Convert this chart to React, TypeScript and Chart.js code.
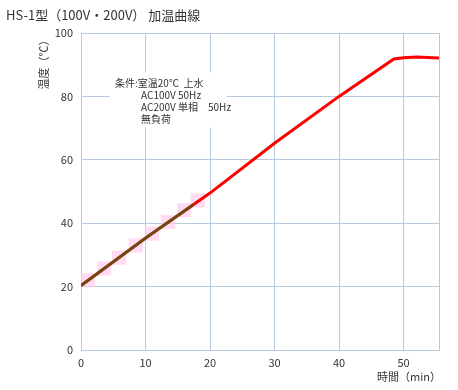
import React, { useEffect, useRef } from "react";
import { Chart, registerables } from "chart.js";

Chart.register(...registerables);

const titleText = "HS-1型（100V・200V） 加温曲線";
const yTitle = "温度（℃）";
const xTitle = "時間（min）";
const noteLines = ["条件:室温20℃  上水", "AC100V 50Hz", "AC200V 単相　50Hz", "無負荷"];

// heating curve (red)
const redTimes = [0, 10, 20, 30, 40, 48.5, 50, 52, 55.5];
const redTemps = [20.3, 35.3, 49.5, 65.2, 80.0, 91.8, 92.2, 92.4, 92.1];

// early segment overlay (brown)
const brownTimes = [0, 10, 17.4];
const brownTemps = [20.3, 35.3, 45.8];

// pink square markers
const markTimes = [1.1, 3.6, 5.9, 8.5, 11.0, 13.5, 16.0, 18.1];
const markTemps = [22.0, 25.7, 29.1, 33.0, 36.7, 40.4, 44.1, 47.2];

const xTicks = [0, 10, 20, 30, 40, 50, 55.5];
const xMin = 0;
const xMax = 55.5;
const yMin = 0;
const yMax = 100;

const FONT = "'Noto Sans CJK JP', 'Noto Sans', sans-serif";
const TEXT = "#333333";
const GRID = "#b9c9de";

const overlay = {
  id: "overlay",
  afterDraw(chart: any) {
    const ctx = chart.ctx;
    const xs = chart.scales.x;
    const ys = chart.scales.y;
    ctx.save();
    // title
    ctx.fillStyle = TEXT;
    ctx.font = `13px ${FONT}`;
    ctx.textAlign = "left";
    ctx.textBaseline = "middle";
    ctx.fillText(titleText, 6, 15);
    // y title
    ctx.save();
    ctx.font = `11px ${FONT}`;
    ctx.translate(44, 62);
    ctx.rotate(-Math.PI / 2);
    ctx.textAlign = "center";
    ctx.fillText(yTitle, 0, 0);
    ctx.restore();
    // x title
    ctx.font = `11px ${FONT}`;
    ctx.textAlign = "right";
    ctx.fillText(xTitle, xs.right + 2, 377);
    // note box
    const bx = xs.getPixelForValue(4.5);
    const by = ys.getPixelForValue(87.5);
    const bw = 117;
    const bh = 55;
    ctx.fillStyle = "#ffffff";
    ctx.fillRect(bx, by, bw, bh);
    ctx.fillStyle = TEXT;
    ctx.font = `10px ${FONT}`;
    ctx.textAlign = "left";
    ctx.fillText(noteLines[0], bx + 5, by + 11);
    ctx.fillText(noteLines[1], bx + 31, by + 23);
    ctx.fillText(noteLines[2], bx + 31, by + 35);
    ctx.fillText(noteLines[3], bx + 31, by + 47);
    ctx.restore();
  },
};

export default function App() {
  const ref = useRef<HTMLCanvasElement | null>(null);
  useEffect(() => {
    if (!ref.current) return;
    const chart = new Chart(ref.current, {
      type: "scatter",
      data: {
        datasets: [
          {
            label: "brown",
            data: brownTimes.map((t, i) => ({ x: t, y: brownTemps[i] })),
            showLine: true,
            borderColor: "#6e4a14",
            borderWidth: 3,
            pointRadius: 0,
            order: 1,
          },
          {
            label: "red",
            data: redTimes.map((t, i) => ({ x: t, y: redTemps[i] })),
            showLine: true,
            borderColor: "#ff0000",
            borderWidth: 3,
            pointRadius: 0,
            order: 2,
          },
          {
            label: "marks",
            data: markTimes.map((t, i) => ({ x: t, y: markTemps[i] })),
            showLine: false,
            pointStyle: "rect",
            pointRadius: 10,
            pointBackgroundColor: "rgba(255,200,238,0.65)",
            pointBorderWidth: 0,
            borderColor: "rgba(0,0,0,0)",
            order: 3,
          },
        ],
      },
      options: {
        responsive: false,
        animation: false,
        layout: { padding: { top: 33, right: 19, left: 0, bottom: 0 } },
        plugins: {
          legend: { display: false },
          tooltip: { enabled: false },
          title: { display: false },
        },
        scales: {
          x: {
            type: "linear",
            min: xMin,
            max: xMax,
            afterFit: (s: any) => {
              s.height = 40;
            },
            afterBuildTicks: (s: any) => {
              s.ticks = xTicks.map((v) => ({ value: v }));
            },
            grid: { color: GRID, drawTicks: false, lineWidth: 1 },
            border: { color: GRID },
            ticks: {
              padding: 6,
              color: TEXT,
              font: { size: 11, family: FONT },
              callback: (v: any) => (Number(v) % 10 === 0 ? String(v) : ""),
            },
          },
          y: {
            min: yMin,
            max: yMax,
            afterFit: (s: any) => {
              s.width = 81;
            },
            grid: { color: GRID, drawTicks: false, lineWidth: 1 },
            border: { color: GRID },
            ticks: {
              stepSize: 20,
              padding: 8,
              color: TEXT,
              font: { size: 11, family: FONT },
            },
          },
        },
      },
      plugins: [overlay],
    });
    return () => chart.destroy();
  }, []);
  return (
    <div style={{ position: "absolute", left: 0, top: 0, width: 458, height: 390, background: "#fff" }}>
      <canvas ref={ref} width={458} height={390} style={{ display: "block" }} />
    </div>
  );
}
